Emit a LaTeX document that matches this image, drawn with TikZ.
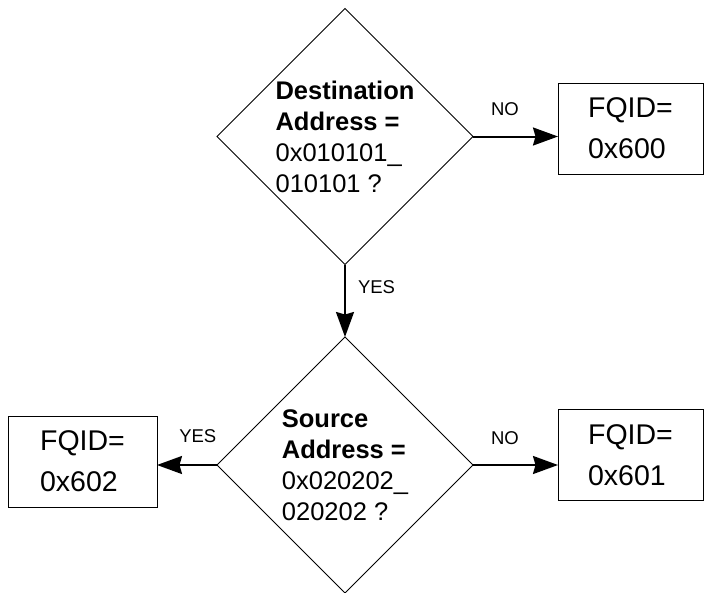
\documentclass[tikz,border=0pt]{standalone}
\usepackage{fontspec}
\setmainfont{Liberation Sans}
\usepackage{tikz}
\usetikzlibrary{arrows.meta}
\usetikzlibrary{shapes.geometric}

\tikzset{
  decision/.style={shape=diamond, draw, line width=0.8pt, inner sep=0pt, outer sep=0pt,
    minimum width=256pt, minimum height=256pt, align=left,
    font=\fontsize{25.5}{31}\selectfont},
  result/.style={shape=rectangle, draw, line width=0.8pt, inner sep=0pt, outer sep=0pt,
    minimum height=91pt, align=left, font=\fontsize{28.5}{41}\selectfont},
  flowarrow/.style={line width=2pt, -{Stealth[length=25pt, width=18pt, inset=2.5pt]}},
  branch/.style={font=\fontsize{18.5}{20}\selectfont, inner sep=0pt},
}

\begin{document}
\begin{tikzpicture}[x=1pt, y=-1pt]

  \useasboundingbox (0,0) rectangle (704,592);

  % decisions
  \node[decision] (dest) at (345,136.5)
    {\textbf{Destination}\\\textbf{Address =}\\0x010101\_\\010101 ?};
  \node[decision] (src) at (345,465)
    {\textbf{Source}\\\textbf{Address =}\\0x020202\_\\020202 ?};

  % queue ids
  \node[result, minimum width=145pt] (fq600) at (630.5,128.5) {FQID=\\0x600};
  \node[result, minimum width=145pt] (fq601) at (630.5,455) {FQID=\\0x601};
  \node[result, minimum width=149pt] (fq602) at (82.5,461.5) {FQID=\\0x602};

  % branches
  \draw [flowarrow] (dest.east) -- (dest.east -| fq600.west)
    node[branch, pos=0.376, anchor=base, yshift=21pt] {NO};
  \draw [flowarrow] (dest.south) -- (src.north)
    node[branch, pos=0.315, anchor=west, xshift=12pt] {YES};
  \draw [flowarrow] (src.east) -- (src.east -| fq601.west)
    node[branch, pos=0.376, anchor=base, yshift=21pt] {NO};
  \draw [flowarrow] (src.west) -- (src.west -| fq602.east)
    node[branch, pos=0.32, anchor=base, yshift=23pt] {YES};

\end{tikzpicture}
\end{document}
